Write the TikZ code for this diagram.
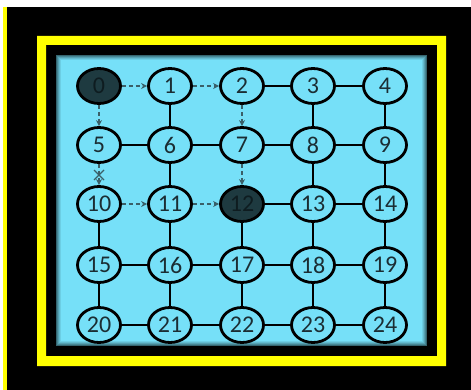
\documentclass[tikz,border=0pt]{standalone}
\usepackage{fontspec}
\setmainfont{Carlito}
\usetikzlibrary{shapes.geometric,arrows.meta}
\definecolor{bgcyan}{HTML}{76E0F8}
\definecolor{darkfill}{HTML}{1E3A40}
\definecolor{txt}{HTML}{1B2D33}
\definecolor{hottxt}{HTML}{0E1C20}
\definecolor{dashc}{HTML}{3A5F68}
\definecolor{yel}{HTML}{FFFF00}
\tikzset{
  vtx/.style={ellipse, draw=black, line width=2.8pt, fill=bgcyan, minimum width=43pt, minimum height=35pt, inner sep=0pt, font=\fontsize{24}{24}\selectfont, text=txt},
  hot/.style={vtx, fill=darkfill, text=hottxt},
  edge/.style={draw=black, line width=1.4pt},
  walk/.style={draw=dashc, line width=1.3pt, dash pattern=on 4pt off 3pt, -{Stealth[length=6pt,width=6pt]}},
}
\begin{document}
\begin{tikzpicture}[x=1pt,y=-1pt]
\useasboundingbox (0,0) rectangle (471,390);
\fill[white] (0,0) rectangle (471,390);
\fill[black] (7,7) rectangle (471,390);
\fill[yel] (3,7) rectangle (7,390);
\fill[yel,even odd rule] (37,36) rectangle (446,366) (46,45) rectangle (437,356);
\fill[bgcyan] (56,55) rectangle (427,346);
\foreach \i/\o in {0.5/0.55,1.5/0.4,2.5/0.28,3.5/0.17,4.5/0.08}{
  \draw[black,opacity=\o,line width=1pt] (56+\i,55+\i) rectangle (427-\i,346-\i);
}
\foreach \r/\yy in {0/86,1/145,2/204,3/265,4/325}{
  \foreach \c/\xx in {0/99,1/170,2/242,3/313,4/385}{
    \pgfmathtruncatemacro{\n}{\r*5+\c}
    \coordinate (p\n) at (\xx,\yy);
  }
}
\foreach \n in {1,...,11,13,14,...,24}{
  \node[vtx] (n\n) at (p\n) {\n};
}
\node[hot] (n0) at (p0) {0};
\node[hot] (n12) at (p12) {12};
\foreach \a/\b in {2/3,3/4,1/6,3/8,4/9,5/6,6/7,7/8,8/9,6/11,8/13,9/14,12/13,13/14,
  10/15,11/16,12/17,13/18,14/19,15/16,16/17,17/18,18/19,15/20,16/21,17/22,18/23,19/24,
  20/21,21/22,22/23,23/24}{
  \draw[edge] (n\a) -- (n\b);
}
\foreach \a/\b in {0/1,1/2,0/5,2/7,7/12,10/11,11/12,5/10}{
  \draw[walk] (n\a) -- (n\b);
}
\draw[dashc,line width=1.2pt] (94,170) -- (104,180) (104,170) -- (94,180);
\end{tikzpicture}
\end{document}
